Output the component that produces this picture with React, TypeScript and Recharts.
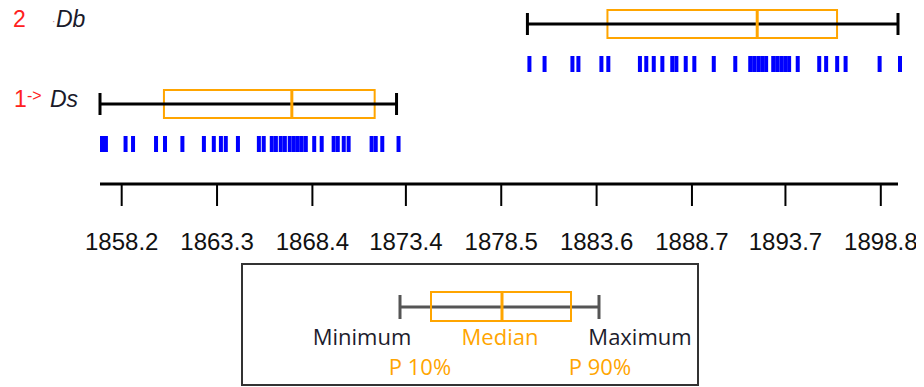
import {
  ScatterChart,
  Scatter,
  XAxis,
  YAxis,
  ReferenceArea,
  ReferenceLine,
} from "recharts";

// rows from bottom to top
const rowNames = ["Ds", "Db"];
const rowNumbers = ["1", "2"];

// individual observations (strip marks)
const dsValues = [
  1857.04, 1857.25, 1858.3, 1858.7, 1859.93, 1860.41, 1861.34, 1862.49, 1863.02,
  1863.4, 1863.66, 1864.31, 1865.43, 1865.69, 1866.12, 1866.34, 1866.6, 1866.82,
  1867.08, 1867.3, 1867.51, 1867.72, 1867.94, 1868.39, 1868.79, 1869.43, 1869.65,
  1869.97, 1870.23, 1871.46, 1871.68, 1872.03, 1872.9,
];
const dbValues = [
  1879.9, 1880.71, 1882.2, 1882.52, 1883.75, 1884.12, 1885.81, 1886.15, 1886.55,
  1887.01, 1887.54, 1887.76, 1888.26, 1888.72, 1889.76, 1890.91, 1891.71, 1891.92,
  1892.14, 1892.35, 1892.56, 1892.94, 1893.15, 1893.37, 1893.58, 1893.79, 1894.25,
  1895.4, 1895.77, 1896.36, 1896.81, 1898.63, 1899.72,
];

// box statistics per row: min, P10, median, P90, max
const mins = [1857.04, 1879.9];
const p10s = [1860.46, 1884.18];
const medians = [1867.3, 1892.19];
const p90s = [1871.73, 1896.46];
const maxs = [1872.9, 1899.72];

const xTicks = [1858.2, 1863.3, 1868.4, 1873.4, 1878.5, 1883.6, 1888.7, 1893.7, 1898.8];

const ORANGE = "#FFA500";
const BLUE = "#0000FF";
const BOX_H = 0.35;
const CAP_H = 0.275;

const boxY = (i: number) => 2 * (i + 1);
const stripY = (i: number) => 2 * (i + 1) - 1;

const strips = [dsValues, dbValues].map((vals, i) =>
  vals.map((v) => ({ x: v, y: stripY(i) }))
);

function StripMark(props: any) {
  const { cx, cy } = props;
  if (cx == null || cy == null) return null;
  return <rect x={cx} y={cy - 8} width={4} height={16} fill={BLUE} />;
}

function RowLabel(props: any) {
  const { y, payload } = props;
  const i = payload.value / 2 - 1;
  const name = rowNames[i];
  if (name === "Db") {
    return (
      <g fontFamily="'Liberation Sans', Arial, sans-serif" fontSize={23}>
        <text x={5} y={y + 3} fill="#ff2020">
          {rowNumbers[i]}
        </text>
        <text x={44} y={y + 1} fill="#c08080" fontSize={10}>
          ·
        </text>
        <text x={48} y={y + 3} fill="#1a1a2a" fontStyle="italic">
          {name}
        </text>
      </g>
    );
  }
  return (
    <g fontFamily="'Liberation Sans', Arial, sans-serif" fontSize={23}>
      <text x={6} y={y + 3} fill="#ff2020">
        {rowNumbers[i]}
      </text>
      <text x={19} y={y - 3} fill="#ff2020" fontSize={16}>
        -&gt;
      </text>
      <text x={42} y={y + 3} fill="#1a1a2a" fontStyle="italic">
        {name}
      </text>
    </g>
  );
}

function LegendBox() {
  return (
    <svg
      width={458}
      height={124}
      style={{ position: "absolute", left: 233, top: 263 }}
      fontFamily="'Open Sans', 'Noto Sans', sans-serif"
      fontSize={22}
    >
      <rect x={1} y={1} width={456} height={121} fill="#fff" stroke="#333" strokeWidth={2} />
      <line x1={159} y1={44} x2={358} y2={44} stroke="#555" strokeWidth={3} />
      <line x1={159} y1={32} x2={159} y2={56} stroke="#555" strokeWidth={3} />
      <line x1={358} y1={32} x2={358} y2={56} stroke="#555" strokeWidth={3} />
      <rect x={190} y={29} width={140} height={29} fill="none" stroke={ORANGE} strokeWidth={2} />
      <line x1={261} y1={29} x2={261} y2={58} stroke={ORANGE} strokeWidth={3} />
      <text x={121} y={82} textAnchor="middle" fill="#1c1c2c">
        Minimum
      </text>
      <text x={259} y={82} textAnchor="middle" fill={ORANGE}>
        Median
      </text>
      <text x={399} y={82} textAnchor="middle" fill="#1c1c2c">
        Maximum
      </text>
      <text x={179} y={112} textAnchor="middle" fill={ORANGE}>
        P 10%
      </text>
      <text x={359} y={112} textAnchor="middle" fill={ORANGE}>
        P 90%
      </text>
    </svg>
  );
}

export default function App() {
  return (
    <div style={{ position: "relative", width: 916, height: 387, marginTop: -8 }}>
      <ScatterChart
        width={916}
        height={387}
        margin={{ top: 8, right: 26, left: 0, bottom: 143 }}
      >
        <XAxis
          type="number"
          dataKey="x"
          domain={[1857.04, 1899.72]}
          ticks={xTicks}
          tickFormatter={(v: number) => v.toFixed(1)}
          height={60}
          axisLine={{ stroke: "#000", strokeWidth: 3 }}
          tickLine={{ stroke: "#000", strokeWidth: 2 }}
          tickSize={22}
          tickMargin={27}
          tick={{
            fill: "#111",
            fontSize: 24,
            fontFamily: "'Liberation Sans', Arial, sans-serif",
          }}
        />
        <YAxis
          type="number"
          dataKey="y"
          domain={[0, 4.4]}
          ticks={[2, 4]}
          width={92}
          axisLine={false}
          tickLine={false}
          tick={<RowLabel />}
        />
        {rowNames.map((name, i) => (
          <ReferenceLine
            key={name + "-w"}
            segment={[
              { x: mins[i], y: boxY(i) },
              { x: maxs[i], y: boxY(i) },
            ]}
            stroke="#000"
            strokeWidth={3}
          />
        ))}
        {rowNames.map((name, i) => (
          <ReferenceLine
            key={name + "-cmin"}
            segment={[
              { x: mins[i], y: boxY(i) - CAP_H },
              { x: mins[i], y: boxY(i) + CAP_H },
            ]}
            stroke="#000"
            strokeWidth={3}
          />
        ))}
        {rowNames.map((name, i) => (
          <ReferenceLine
            key={name + "-cmax"}
            segment={[
              { x: maxs[i], y: boxY(i) - CAP_H },
              { x: maxs[i], y: boxY(i) + CAP_H },
            ]}
            stroke="#000"
            strokeWidth={3}
          />
        ))}
        {rowNames.map((name, i) => (
          <ReferenceArea
            key={name + "-box"}
            x1={p10s[i]}
            x2={p90s[i]}
            y1={boxY(i) - BOX_H}
            y2={boxY(i) + BOX_H}
            fill="none"
            fillOpacity={0}
            stroke={ORANGE}
            strokeWidth={2}
          />
        ))}
        {rowNames.map((name, i) => (
          <ReferenceLine
            key={name + "-med"}
            segment={[
              { x: medians[i], y: boxY(i) - BOX_H },
              { x: medians[i], y: boxY(i) + BOX_H },
            ]}
            stroke={ORANGE}
            strokeWidth={3}
          />
        ))}
        {rowNames.map((name, i) => (
          <Scatter
            key={name + "-strip"}
            data={strips[i]}
            shape={<StripMark />}
            isAnimationActive={false}
          />
        ))}
      </ScatterChart>
      <LegendBox />
    </div>
  );
}
